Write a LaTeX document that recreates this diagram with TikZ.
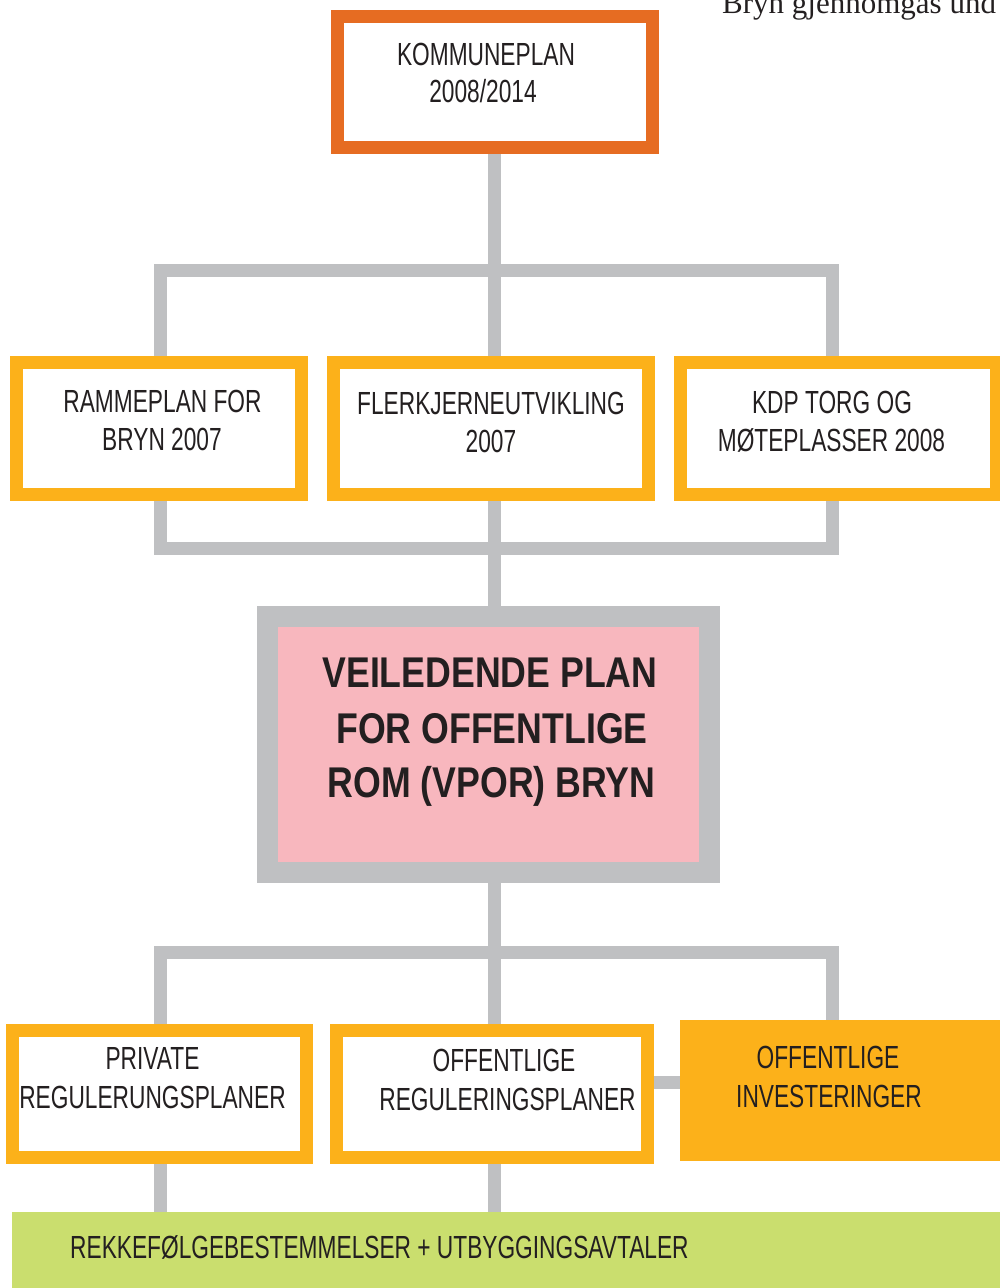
\documentclass[tikz,border=0pt]{standalone}
\usepackage{fontspec}
\setmainfont{Liberation Sans}
\newfontfamily\condfont{Liberation Sans}[FakeStretch=0.71]
\newfontfamily\condbold{Liberation Sans}[FakeStretch=0.83]
\newfontfamily\serifpage{Liberation Serif}
\usetikzlibrary{backgrounds}
\definecolor{korange}{HTML}{E66C22}
\definecolor{kyellow}{HTML}{FCB11A}
\definecolor{kgray}{HTML}{BFC0C2}
\definecolor{kpink}{HTML}{F8B7BE}
\definecolor{kgreen}{HTML}{CADE6E}
\definecolor{ktext}{HTML}{231F20}
\begin{document}
\begin{tikzpicture}[x=1pt,y=-1pt,
  box/.style={rectangle, inner sep=0pt, outer sep=0pt, fill=white, line width=13pt},
  conn/.style={draw=kgray, line width=13pt, line join=miter},
  lbl/.style={anchor=base, inner sep=0pt, text=ktext, font=\condfont\fontsize{32}{38}\selectfont},
  blbl/.style={anchor=base, inner sep=0pt, text=ktext, font=\condbold\bfseries\fontsize{43}{50}\selectfont}]
\useasboundingbox (0,0) rectangle (1000,1288);
\clip (0,0) rectangle (1000,1288);

% stray page text
\node[anchor=base west, inner sep=0pt, text=ktext, font=\serifpage\fontsize{31}{36}\selectfont] (pagetext) at (722,13) {Bryn gjennomgås und};

% boxes
\node[box, draw=korange, minimum width=315pt, minimum height=131pt] (komm) at (494.5,82) {};
\node[box, draw=kyellow, minimum width=285pt, minimum height=132pt] (ramme) at (159,428.5) {};
\node[box, draw=kyellow, minimum width=315pt, minimum height=132pt] (flerk) at (491,428.5) {};
\node[box, draw=kyellow, minimum width=316pt, minimum height=132pt] (kdp) at (838.5,428.5) {};
\node[box, draw=kgray, fill=kpink, line width=21pt, minimum width=442pt, minimum height=256pt] (vpor) at (488.5,744.5) {};
\node[box, draw=kyellow, minimum width=294pt, minimum height=127pt] (priv) at (159.5,1094) {};
\node[box, draw=kyellow, minimum width=311pt, minimum height=127pt] (offreg) at (492,1094) {};
\node[rectangle, inner sep=0pt, outer sep=0pt, fill=kyellow, minimum width=325pt, minimum height=141pt] (invest) at (842.5,1090.5) {};
\node[rectangle, inner sep=0pt, outer sep=0pt, fill=kgreen, minimum width=998pt, minimum height=88pt] (green) at (511,1256) {};

% texts
\node[lbl] (t1a) at (486,65) {KOMMUNEPLAN};
\node[lbl] (t1b) at (483,102) {2008/2014};
\node[lbl] (t2a) at (162.5,412) {RAMMEPLAN FOR};
\node[lbl] (t2b) at (162,450) {BRYN 2007};
\node[lbl] (t3a) at (491,414) {FLERKJERNEUTVIKLING};
\node[lbl] (t3b) at (491,452) {2007};
\node[lbl] (t4a) at (832,413) {KDP TORG OG};
\node[lbl] (t4b) at (831.5,451) {MØTEPLASSER 2008};
\node[blbl] (t5a) at (490,687) {VEILEDENDE PLAN};
\node[blbl] (t5b) at (492,743) {FOR OFFENTLIGE};
\node[blbl] (t5c) at (491.5,797) {ROM (VPOR) BRYN};
\node[lbl] (t6a) at (152.5,1069) {PRIVATE};
\node[lbl] (t6b) at (152.5,1108) {REGULERUNGSPLANER};
\node[lbl] (t7a) at (504,1071) {OFFENTLIGE};
\node[lbl] (t7b) at (507.5,1110) {REGULERINGSPLANER};
\node[lbl] (t8a) at (828,1068) {OFFENTLIGE};
\node[lbl] (t8b) at (829,1107) {INVESTERINGER};
\node[lbl, anchor=base west] (t9) at (70,1258) {REKKEFØLGEBESTEMMELSER + UTBYGGINGSAVTALER};

% connectors
\begin{scope}[on background layer]
\coordinate (tA) at (494.5,270.5);
\coordinate (tL) at (160.5,270.5);
\coordinate (tR) at (832,270.5);
\coordinate (mA) at (494.5,548);
\coordinate (mL) at (160.5,548);
\coordinate (mR) at (832,548);
\coordinate (bA) at (494.5,952.5);
\coordinate (bL) at (160.5,952.5);
\coordinate (bR) at (832,952.5);
\coordinate (sideY) at (0,1082);
\draw[conn] (komm.south) -- (tA);
\draw[conn] (ramme.north -| tL) -- (tL) -- (tR) -- (kdp.north -| tR);
\draw[conn] (tA) -- (flerk.north -| tA);
\draw[conn] (ramme.south -| mL) -- (mL) -- (mR) -- (kdp.south -| mR);
\draw[conn] (flerk.south -| mA) -- (vpor.north -| mA);
\draw[conn] (vpor.south -| bA) -- (bA);
\draw[conn] (priv.north -| bL) -- (bL) -- (bR) -- (invest.north -| bR);
\draw[conn] (bA) -- (offreg.north -| bA);
\draw[conn] (offreg.east |- sideY) -- (invest.west |- sideY);
\draw[conn] (priv.south -| bL) -- (green.north -| bL);
\draw[conn] (offreg.south -| bA) -- (green.north -| bA);
\end{scope}
\end{tikzpicture}
\end{document}
